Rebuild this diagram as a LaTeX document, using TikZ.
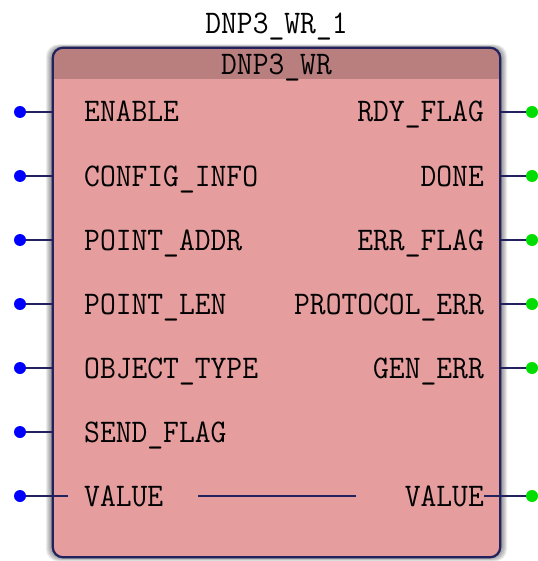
\documentclass[tikz,border=0pt]{standalone}
\usepackage{fontspec}
\newfontfamily\pinfont[FakeStretch=0.93]{Latin Modern Mono}
\definecolor{fbfill}{HTML}{E59D9D}
\definecolor{fbhead}{HTML}{B97F7F}
\definecolor{fbline}{HTML}{22225E}
\definecolor{pinin}{HTML}{0000FF}
\definecolor{pinout}{HTML}{00DD00}
\tikzset{
  lbl/.style={inner sep=0pt, font=\pinfont\fontsize{33}{33}\selectfont, text=black},
  inlbl/.style={lbl, anchor=base west},
  outlbl/.style={lbl, anchor=base east},
  indot/.style={circle, fill=pinin, inner sep=0pt, minimum size=12pt},
  outdot/.style={circle, fill=pinout, inner sep=0pt, minimum size=12pt},
  wire/.style={draw=fbline, line width=1.6pt},
}
\begin{document}
\begin{tikzpicture}[x=1pt,y=-1pt]
\useasboundingbox (0,0) rectangle (537,561);
% shadow
\foreach \i in {1,...,7}{
  \fill[black, opacity=0.08, rounded corners=12pt] (53-\i,48-\i*0.5) rectangle (500+\i,557+\i*0.6);
}
% box
\node[rectangle, minimum width=447pt, minimum height=509pt, inner sep=0pt] (fb) at (276.5,302.5) {};
\fill[fbfill, rounded corners=10pt] (fb.north west) rectangle (fb.south east);
\begin{scope}
  \clip[rounded corners=10pt] (fb.north west) rectangle (fb.south east);
  \fill[fbhead] (fb.north west) rectangle (500,79);
\end{scope}
\draw[fbline, line width=2.2pt, rounded corners=10pt] (fb.north west) rectangle (fb.south east);
% titles
\node[lbl, anchor=base] (inst) at (276.5,34) {DNP3\_WR\_1};
\node[lbl, anchor=base] (type) at (276.5,75) {DNP3\_WR};
% inputs
\foreach \n/\t/\y in {1/ENABLE/112, 2/CONFIG\_INFO/176, 3/POINT\_ADDR/240, 4/POINT\_LEN/304, 5/OBJECT\_TYPE/368, 6/SEND\_FLAG/432}{
  \node[indot] (in\n) at (20,\y) {};
  \node[inlbl] (il\n) at (84,\y+10) {\t};
  \draw[wire] (in\n) -- (in\n -| fb.west);
}
\node[indot] (in7) at (20,496) {};
\node[inlbl] (il7) at (84,506) {VALUE};
\coordinate (in7end) at (68,496);
\draw[wire] (in7) -- (in7end);
% outputs
\foreach \n/\t/\y in {1/RDY\_FLAG/112, 2/DONE/176, 3/ERR\_FLAG/240, 4/PROTOCOL\_ERR/304, 5/GEN\_ERR/368}{
  \node[outdot] (out\n) at (532,\y) {};
  \node[outlbl] (ol\n) at (484,\y+10) {\t};
  \draw[wire] (out\n) -- (out\n -| fb.east);
}
\node[outdot] (out7) at (532,496) {};
\node[outlbl] (ol7) at (484,506) {VALUE};
\draw[wire] (out7) -- (ol7.east |- out7);
% through line
\coordinate (va) at (198,496);
\coordinate (vb) at (356,496);
\draw[wire] (va) -- (vb);
\end{tikzpicture}
\end{document}
